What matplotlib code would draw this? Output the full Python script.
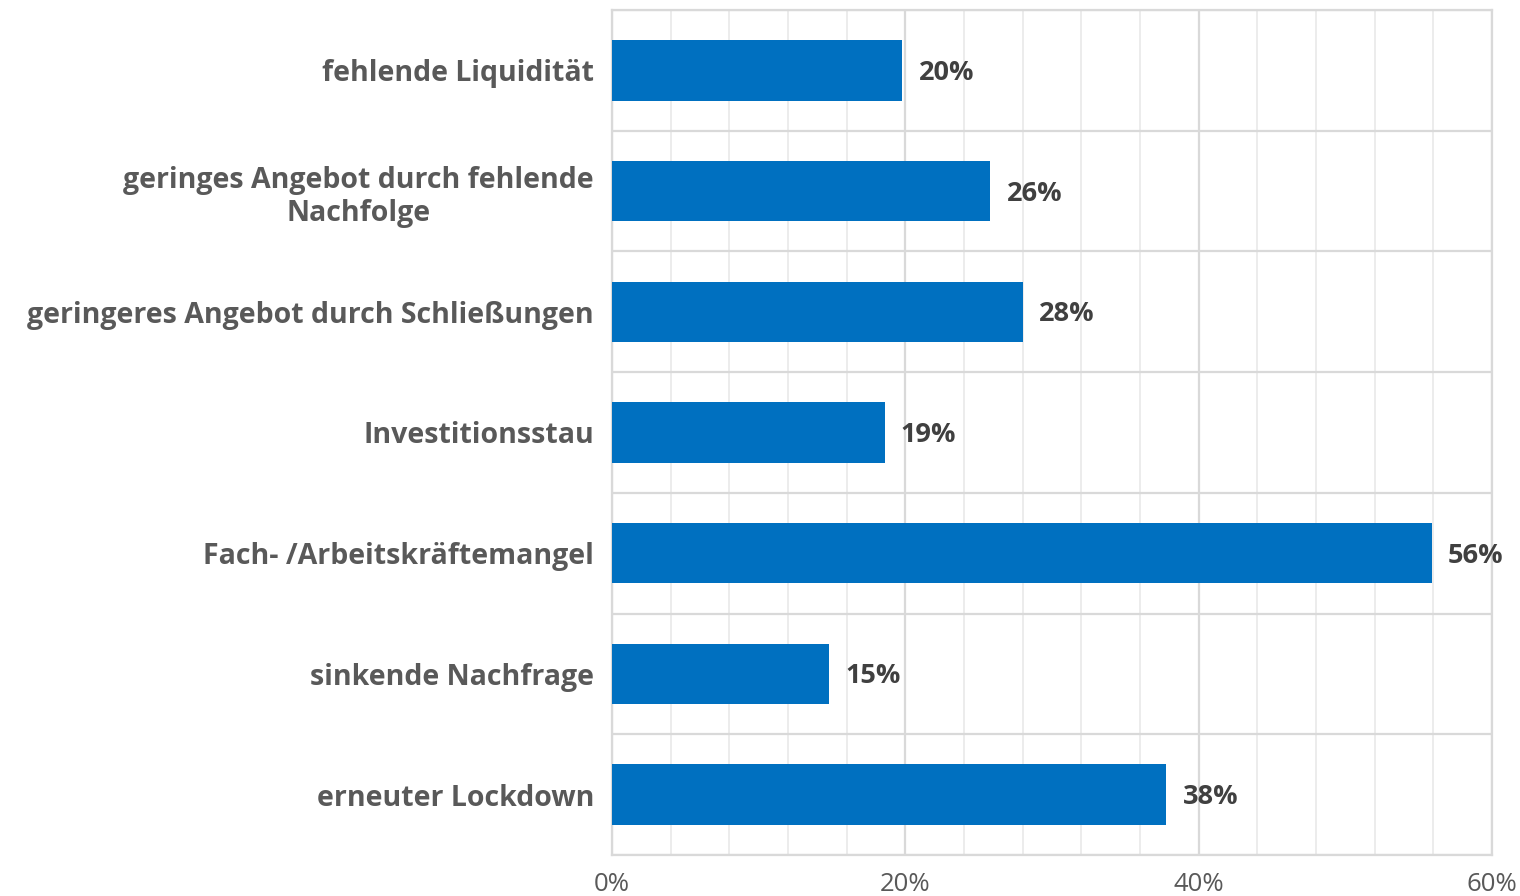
import numpy as np
import matplotlib.pyplot as plt
from matplotlib.ticker import MultipleLocator, FuncFormatter

# Data
categories = [
    "fehlende Liquidität",
    "geringes Angebot durch fehlende\nNachfolge",
    "geringeres Angebot durch Schließungen",
    "Investitionsstau",
    "Fach- /Arbeitskräftemangel",
    "sinkende Nachfrage",
    "erneuter Lockdown",
]
values = [19.8, 25.8, 28.0, 18.6, 55.9, 14.8, 37.8]

# Style
bar_color = "#0070C0"
label_color = "#595959"
value_color = "#404040"
major_grid = "#d9d9d9"
minor_grid = "#ebebeb"

plt.rcParams["font.family"] = ["Open Sans", "DejaVu Sans"]

fig = plt.figure(figsize=(15.2, 8.96), dpi=100)
ax = fig.add_axes([0.4026, 0.0458, 0.5790, 0.9430])

y = np.arange(len(categories))
ax.barh(y, values, height=0.5, color=bar_color, zorder=3)

for yi, v in zip(y, values):
    ax.text(v + 1.1, yi + 0.02, "{:.0f}%".format(v), va="center", ha="left",
            fontsize=19.5, fontweight="bold", color=value_color)

ax.set_xlim(0, 60)
ax.set_ylim(len(categories) - 0.5, -0.5)

# X-axis
ax.xaxis.set_major_locator(MultipleLocator(20))
ax.xaxis.set_minor_locator(MultipleLocator(4))
ax.xaxis.set_major_formatter(FuncFormatter(lambda x, p: "{:.0f}%".format(x)))
ax.tick_params(axis="x", which="both", length=0, pad=12, labelsize=18.5,
               labelcolor=label_color)

# Y-axis
ax.set_yticks(y)
ax.set_yticklabels(categories, fontsize=20.5, fontweight="bold",
                   color=label_color, linespacing=1.2)
ax.set_yticks(np.arange(len(categories) + 1) - 0.5, minor=True)
ax.tick_params(axis="y", which="both", length=0, pad=13)
for lbl in ax.get_yticklabels():
    lbl.set_horizontalalignment("right")
    lbl.set_multialignment("center")

# Grid
ax.grid(axis="x", which="minor", color=minor_grid, linewidth=1.3, zorder=0)
ax.grid(axis="x", which="major", color=major_grid, linewidth=1.6, zorder=1)
ax.grid(axis="y", which="minor", color=major_grid, linewidth=1.6, zorder=1)
ax.grid(axis="y", which="major", visible=False)

for side in ["top", "right", "left", "bottom"]:
    ax.spines[side].set_color(major_grid)
    ax.spines[side].set_linewidth(1.6)

fig.savefig("out.png", dpi=100)
